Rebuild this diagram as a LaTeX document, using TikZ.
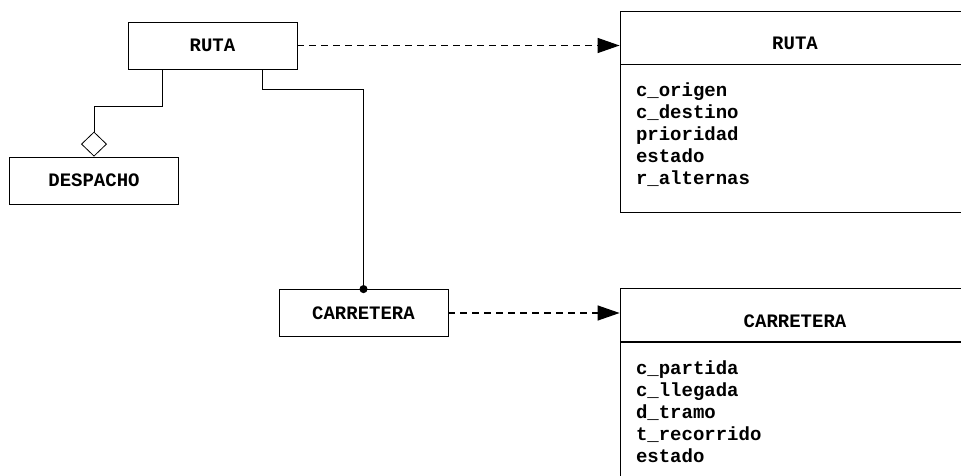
\documentclass[tikz,border=0pt]{standalone}
\usepackage{fontspec}
\setmonofont{Liberation Mono}
\usetikzlibrary{arrows.meta,calc}

\begin{document}
\begin{tikzpicture}[x=1pt,y=-1pt,line width=0.8pt,
                    every node/.style={font=\ttfamily\bfseries\fontsize{19}{22}\selectfont},
                    class node/.style={draw,rectangle,minimum width=169pt,minimum height=47pt,inner sep=0pt},
                    head node/.style={draw,rectangle,minimum width=350pt,minimum height=53pt,inner sep=0pt,
                                      text height=25pt,text depth=0pt},
                    body node/.style={draw,rectangle,minimum width=350pt,inner sep=0pt,anchor=north},
                    attr node/.style={anchor=base west,inner sep=0pt},
                    depend/.style={line width=1.2pt,dash pattern=on 7pt off 5pt,
                                   -{Triangle[length=22pt,width=15pt]}}]

  \useasboundingbox (0,0) rectangle (961,476);
  \clip (0,0) rectangle (961,476);

  \node[class node] (ruta) at (212.5,45.5) {RUTA};
  \node[class node] (despacho) at (94,180.5) {DESPACHO};
  \node[class node] (carretera) at (363.5,313) {CARRETERA};

  % clases con atributos
  \node[head node] (rutaT) at (795,37.5) {RUTA};
  \node[body node,minimum height=148pt] (rutaB) at (rutaT.south) {};
  \foreach \a [count=\i] in {c\_origen,c\_destino,prioridad,estado,r\_alternas}
    \node[attr node] (ruta-\i) at ($(rutaB.north west)+(16,10+22*\i)$) {\a};

  \node[head node] (carrT) at (795,315) {CARRETERA};
  \node[body node,minimum height=150pt] (carrB) at (carrT.south) {};
  \foreach \a [count=\i] in {c\_partida,c\_llegada,d\_tramo,t\_recorrido,estado}
    \node[attr node] (carr-\i) at ($(carrB.north west)+(16,11+22*\i)$) {\a};

  \draw[-{Diamond[open,length=25pt,width=26pt]}]
    ([xshift=-50.5pt]ruta.south) -- ++(0,37) -| (despacho.north);
  \draw[-{Circle[length=8pt]},shorten >=-4pt]
    ([xshift=49.5pt]ruta.south) -- ++(0,20) -| (carretera.north);

  \draw[depend] (ruta.east) -- (ruta.east -| rutaT.west);
  \draw[depend] (carretera.east) -- (carretera.east -| carrT.west);
\end{tikzpicture}
\end{document}
